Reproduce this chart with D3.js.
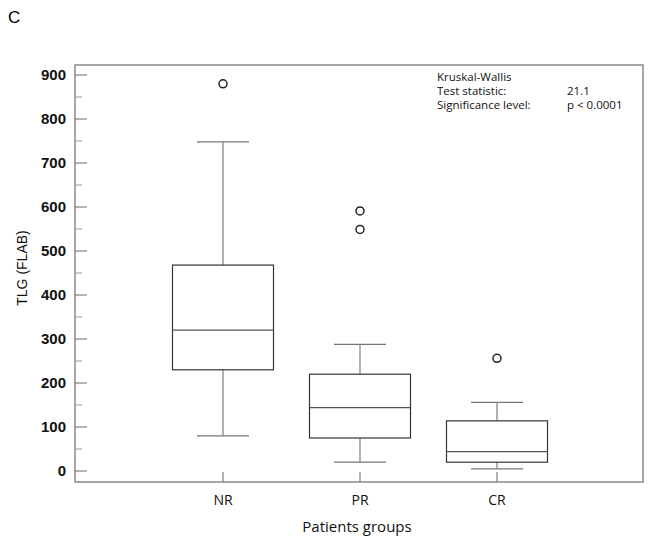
<!DOCTYPE html>
<html>
<head>
<meta charset="utf-8">
<script src="https://cdn.jsdelivr.net/npm/d3@7"></script>
<style>
  body { margin: 0; background: #fff; }
  svg { display: block; }
</style>
</head>
<body>
<script>
// values
const groups = ['NR', 'PR', 'CR'];
const whiskerLow = [80, 20, 5];
const q1 = [230, 75, 20];
const median = [320, 144, 44];
const q3 = [468, 220, 114];
const whiskerHigh = [748, 288, 156];
const outliers = [[880], [591, 549], [256]];
const yTicks = [0, 100, 200, 300, 400, 500, 600, 700, 800, 900];
const yMinorTicks = [50, 150, 250, 350, 450, 550, 650, 750, 850];
const statLabels = ['Kruskal-Wallis', 'Test statistic:', 'Significance level:'];
const statValues = ['', '21.1', 'p < 0.0001'];

const W = 650, H = 536;
const frame = { left: 75, right: 643, top: 65, bottom: 482 };

const svg = d3.select('body').append('svg')
    .attr('width', W)
    .attr('height', H);

const y = d3.scaleLinear().domain([0, 900]).range([471, 75]);
const x = d3.scalePoint().domain(groups).range([223, 497]);

const boxW = 101, capW = 52;

// panel letter
svg.append('text')
    .attr('x', 8).attr('y', 23)
    .attr('font-family', 'Liberation Sans, Arial, sans-serif')
    .attr('font-size', 17)
    .text('C');

// frame
svg.append('rect')
    .attr('x', frame.left).attr('y', frame.top)
    .attr('width', frame.right - frame.left)
    .attr('height', frame.bottom - frame.top)
    .attr('fill', 'none')
    .attr('stroke', '#8a8a8a')
    .attr('stroke-width', 1.5);

// y axis ticks (inward)
const yAxis = svg.append('g').attr('class', 'y-axis');
yAxis.selectAll('line.major')
    .data(yTicks).join('line')
    .attr('class', 'major')
    .attr('x1', frame.left).attr('x2', frame.left + 12)
    .attr('y1', d => y(d)).attr('y2', d => y(d))
    .attr('stroke', '#666').attr('stroke-width', 1);
yAxis.selectAll('line.minor')
    .data(yMinorTicks).join('line')
    .attr('class', 'minor')
    .attr('x1', frame.left).attr('x2', frame.left + 7)
    .attr('y1', d => y(d)).attr('y2', d => y(d))
    .attr('stroke', '#999').attr('stroke-width', 1);
yAxis.selectAll('text')
    .data(yTicks).join('text')
    .attr('x', 66)
    .attr('y', d => y(d))
    .attr('dy', '0.36em')
    .attr('text-anchor', 'end')
    .attr('font-family', 'Liberation Sans, Arial, sans-serif')
    .attr('font-size', 15)
    .attr('font-weight', 'bold')
    .attr('fill', '#111')
    .text(d => d);

svg.append('text')
    .attr('transform', 'translate(27,268) rotate(-90)')
    .attr('text-anchor', 'middle')
    .attr('font-family', 'Liberation Sans, Arial, sans-serif')
    .attr('font-size', 14)
    .attr('fill', '#111')
    .text('TLG (FLAB)');

// x axis ticks (inward)
const xAxis = svg.append('g').attr('class', 'x-axis');
xAxis.selectAll('line')
    .data(groups).join('line')
    .attr('x1', d => x(d)).attr('x2', d => x(d))
    .attr('y1', frame.bottom).attr('y2', frame.bottom - 10)
    .attr('stroke', '#666');
xAxis.selectAll('text')
    .data(groups).join('text')
    .attr('x', d => x(d))
    .attr('y', 505)
    .attr('text-anchor', 'middle')
    .attr('font-family', 'Open Sans, sans-serif')
    .attr('font-size', 14)
    .attr('fill', '#111')
    .text(d => d);

svg.append('text')
    .attr('x', 357).attr('y', 532)
    .attr('text-anchor', 'middle')
    .attr('font-family', 'Open Sans, sans-serif')
    .attr('font-size', 15)
    .attr('fill', '#111')
    .text('Patients groups');

// box plots
const boxes = svg.append('g').attr('class', 'boxes')
    .selectAll('g')
    .data(groups.map((g, i) => ({
        g, lo: whiskerLow[i], q1: q1[i], med: median[i], q3: q3[i], hi: whiskerHigh[i], out: outliers[i]
    })))
    .join('g');

// whiskers
boxes.append('line')
    .attr('x1', d => x(d.g)).attr('x2', d => x(d.g))
    .attr('y1', d => y(d.q3)).attr('y2', d => y(d.hi))
    .attr('stroke', '#888').attr('stroke-width', 1.3);
boxes.append('line')
    .attr('x1', d => x(d.g)).attr('x2', d => x(d.g))
    .attr('y1', d => y(d.q1)).attr('y2', d => y(d.lo))
    .attr('stroke', '#888').attr('stroke-width', 1.3);
boxes.append('line')
    .attr('x1', d => x(d.g) - capW / 2).attr('x2', d => x(d.g) + capW / 2)
    .attr('y1', d => y(d.hi)).attr('y2', d => y(d.hi))
    .attr('stroke', '#777').attr('stroke-width', 1.3);
boxes.append('line')
    .attr('x1', d => x(d.g) - capW / 2).attr('x2', d => x(d.g) + capW / 2)
    .attr('y1', d => y(d.lo)).attr('y2', d => y(d.lo))
    .attr('stroke', '#777').attr('stroke-width', 1.3);

// box
boxes.append('rect')
    .attr('x', d => x(d.g) - boxW / 2)
    .attr('y', d => y(d.q3))
    .attr('width', boxW)
    .attr('height', d => y(d.q1) - y(d.q3))
    .attr('fill', 'none')
    .attr('stroke', '#333').attr('stroke-width', 1.2);
boxes.append('line')
    .attr('x1', d => x(d.g) - boxW / 2).attr('x2', d => x(d.g) + boxW / 2)
    .attr('y1', d => y(d.med)).attr('y2', d => y(d.med))
    .attr('stroke', '#555').attr('stroke-width', 1.2);

// outliers
boxes.selectAll('circle')
    .data(d => d.out.map(v => ({ g: d.g, v })))
    .join('circle')
    .attr('cx', d => x(d.g))
    .attr('cy', d => y(d.v))
    .attr('r', 4)
    .attr('fill', 'none')
    .attr('stroke', '#222').attr('stroke-width', 1.5);

// statistics text
const stats = svg.append('g').attr('class', 'stats')
    .attr('font-family', 'Open Sans, sans-serif')
    .attr('font-size', 11.5)
    .attr('fill', '#111');
stats.selectAll('text.lbl')
    .data(statLabels).join('text')
    .attr('class', 'lbl')
    .attr('x', 437)
    .attr('y', (d, i) => 81 + i * 14)
    .text(d => d);
stats.selectAll('text.val')
    .data(statValues).join('text')
    .attr('class', 'val')
    .attr('x', 567)
    .attr('y', (d, i) => 81 + i * 14)
    .text(d => d);
</script>
</body>
</html>
